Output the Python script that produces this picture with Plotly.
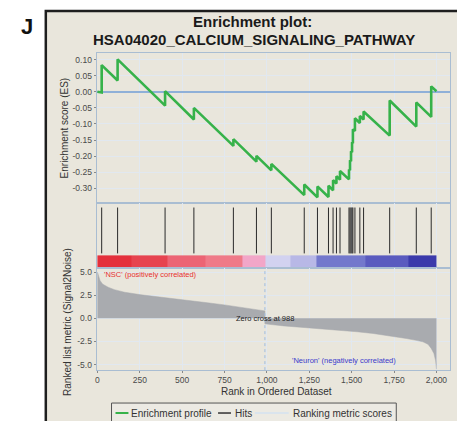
import plotly.graph_objects as go

# ---------------- data ----------------
es_rank = [0, 25, 25, 119, 119, 399, 399, 569, 569, 802, 802, 938, 938, 1026, 1026,
           1220, 1220, 1298, 1298, 1363, 1363, 1390, 1390, 1410, 1410, 1431, 1431,
           1484, 1484, 1490, 1490, 1496, 1496, 1502, 1502, 1507, 1507, 1519, 1519,
           1548, 1548, 1570, 1570, 1724, 1724, 1881, 1881, 1969, 1969, 2000]
es_value = [0.0, -0.002, 0.083, 0.035, 0.101, -0.043, 0.002, -0.086, -0.050, -0.168, -0.147,
            -0.217, -0.199, -0.244, -0.224, -0.321, -0.288, -0.328, -0.294, -0.327, -0.292,
            -0.306, -0.275, -0.285, -0.262, -0.273, -0.246, -0.272, -0.241, -0.244, -0.213,
            -0.216, -0.185, -0.188, -0.157, -0.160, -0.116, -0.122, -0.082, -0.097, -0.075,
            -0.086, -0.061, -0.136, -0.027, -0.108, -0.033, -0.078, 0.017, 0.002]

hit_ranks = [25, 119, 399, 569, 802, 938, 1026, 1220, 1298, 1363, 1390, 1410, 1431,
             1484, 1490, 1496, 1502, 1507, 1519, 1548, 1570, 1724, 1881, 1969]

metric_rank = [0, 5, 15, 30, 63, 100, 160, 258, 350, 453, 550, 649, 750, 845, 920, 960,
               988, 988, 1020, 1100, 1177, 1300, 1431, 1530, 1626, 1720, 1822, 1880,
               1920, 1950, 1969, 1985, 1995, 2000]
metric_value = [5.0, 4.6, 4.1, 3.7, 3.36, 3.1, 2.82, 2.54, 2.32, 2.11, 1.9, 1.68, 1.45,
                1.2, 1.0, 0.9, 0.8, -0.6, -0.68, -0.82, -0.93, -1.1, -1.29, -1.45, -1.64,
                -1.88, -2.18, -2.38, -2.54, -2.8, -3.25, -3.8, -4.6, -5.5]
zero_cross = 988

band_edges = [0, 200, 414, 640, 854, 991, 1140, 1294, 1578, 1832, 2002]

es_ticks = [0.10, 0.05, 0.00, -0.05, -0.10, -0.15, -0.20, -0.25, -0.30]
es_ticktext = ["0.10", "0.05", "0.00", "-0.05", "-0.10", "-0.15", "-0.20", "-0.25", "-0.30"]
metric_ticks = [5.0, 2.5, 0.0, -2.5, -5.0]
metric_ticktext = ["5.0", "2.5", "0.0", "-2.5", "-5.0"]
rank_ticks = [0, 250, 500, 750, 1000, 1250, 1500, 1750, 2000]
rank_ticktext = ["0", "250", "500", "750", "1,000", "1,250", "1,500", "1,750", "2,000"]

# ---------------- styles ----------------
band_colors = ['#e4303c', '#e6434f', '#ec6474', '#ef7a88', '#f2a6c8', '#d2d2f0',
               '#b8b8e6', '#7378cc', '#5a5bbf', '#3b3aab']
W, H = 457, 421
FONT = "Liberation Sans, Arial, sans-serif"
GRID = '#e1e8f0'
AXL = '#a9bdd2'
TICKC = '#4a4a4a'


def px(p):
    return p / W


def py(p):
    return 1 - p / H


xdom = [px(95), px(450)]
top_dom = [py(202), py(52)]
mid_dom = [py(268), py(202)]
bot_dom = [py(370), py(268)]
xrange_ = [-5, 2080]

fig = go.Figure()

# ranked metric (bottom)
fig.add_trace(go.Scatter(x=metric_rank, y=metric_value, mode='lines', fill='tozeroy',
                         fillcolor='#a9abaf', line=dict(color='#a9abaf', width=0.5),
                         xaxis='x3', yaxis='y3', showlegend=False, hoverinfo='skip'))

# hits (middle)
hx, hy = [], []
for r in hit_ranks:
    hx += [r, r, None]
    hy += [0.227, 0.924, None]
fig.add_trace(go.Scatter(x=hx, y=hy, mode='lines', line=dict(color='#2a2a2a', width=1),
                         xaxis='x2', yaxis='y2', showlegend=False, hoverinfo='skip'))

# color bar (middle)
n = len(band_colors)
cs = []
for i, c in enumerate(band_colors):
    cs.append([i / n, c])
    cs.append([(i + 1) / n, c])
fig.add_trace(go.Heatmap(x=band_edges, y=[0.015, 0.197], z=[list(range(n))],
                         zmin=-0.5, zmax=n - 0.5, colorscale=cs, showscale=False,
                         xaxis='x2', yaxis='y2', hoverinfo='skip'))

# enrichment score (top)
fig.add_trace(go.Scatter(x=es_rank, y=es_value, mode='lines',
                         line=dict(color='#36b24a', width=2.6),
                         xaxis='x', yaxis='y', showlegend=False, hoverinfo='skip'))

common_x = dict(domain=xdom, range=xrange_, tickvals=rank_ticks, showgrid=True,
                gridcolor=GRID, gridwidth=1, zeroline=False, showline=True,
                linecolor=AXL, mirror=True)
tickfont = dict(family=FONT, size=8.5, color=TICKC)

fig.update_layout(
    width=W, height=H, autosize=False,
    margin=dict(l=0, r=0, t=0, b=0),
    paper_bgcolor='white', plot_bgcolor='white',
    showlegend=False,
    xaxis=dict(**common_x, anchor='y', showticklabels=False, ticks=''),
    yaxis=dict(domain=top_dom, range=[-0.344, 0.121], anchor='x', tickvals=es_ticks,
               ticktext=es_ticktext, tickfont=tickfont, ticks='outside', ticklen=2,
               tickcolor='#888', showgrid=True, gridcolor=GRID, zeroline=True,
               zerolinecolor='#8fb0d8', zerolinewidth=1.5, showline=True,
               linecolor=AXL, mirror=True),
    xaxis2=dict(**common_x, anchor='y2', showticklabels=False, ticks=''),
    yaxis2=dict(domain=mid_dom, range=[0, 1], anchor='x2', showticklabels=False,
                showgrid=False, zeroline=False, showline=True, linecolor=AXL, mirror=True),
    xaxis3=dict(**common_x, anchor='y3', ticktext=rank_ticktext, tickfont=tickfont,
                ticks='outside', ticklen=2, tickcolor='#888'),
    yaxis3=dict(domain=bot_dom, range=[-5.6, 5.4], anchor='x3', tickvals=metric_ticks,
                ticktext=metric_ticktext, tickfont=tickfont, ticks='outside', ticklen=2,
                tickcolor='#888', showgrid=True, gridcolor=GRID, zeroline=False,
                showline=True, linecolor=AXL, mirror=True),
)

shapes = [
    # outer frame / panel background
    dict(type='rect', xref='paper', yref='paper', x0=px(44), x1=1.05, y0=-0.05, y1=py(10),
         fillcolor='#e9e6dc', line=dict(color='#1e1e1e', width=2.5), layer='below'),
    # zero-cross dashed line
    dict(type='line', xref='x3', yref='y3 domain', x0=zero_cross, x1=zero_cross, y0=0, y1=1,
         line=dict(color='#9fbce0', width=1, dash='dot')),
    # legend box
    dict(type='rect', xref='paper', yref='paper', x0=px(110), x1=px(396), y0=-0.05, y1=py(403),
         fillcolor='#eceae3', line=dict(color='#555', width=1)),
    dict(type='line', xref='paper', yref='paper', x0=px(114), x1=px(127), y0=py(413), y1=py(413),
         line=dict(color='#36b24a', width=2)),
    dict(type='line', xref='paper', yref='paper', x0=px(217), x1=px(230), y0=py(413), y1=py(413),
         line=dict(color='#333', width=1.5)),
    dict(type='line', xref='paper', yref='paper', x0=px(254), x1=px(288), y0=py(413), y1=py(413),
         line=dict(color='#d4e2f0', width=1.5)),
]
fig.update_layout(shapes=shapes)

ann = []


def A(text, x, y, size, color='#222', bold=False, xanchor='center', yanchor='middle',
      angle=0, xref='paper', yref='paper'):
    ann.append(dict(text=('<b>%s</b>' % text) if bold else text, x=x, y=y, xref=xref,
                    yref=yref, showarrow=False, xanchor=xanchor, yanchor=yanchor,
                    textangle=angle, font=dict(family=FONT, size=size, color=color)))


A("J", px(25), py(26), 22, '#111', bold=True)
A("Enrichment plot:", px(252), py(21), 15, '#1a1a1a', bold=True)
A("HSA04020_CALCIUM_SIGNALING_PATHWAY", px(253), py(39), 15, '#1a1a1a', bold=True)
A("Enrichment score (ES)", px(63), py(127), 10, '#333', angle=-90)
A("Ranked list metric (Signal2Noise)", px(66), py(322), 10, '#333', angle=-90)
A("Rank in Ordered Dataset", px(276), py(391), 10, '#333')
A("Zero cross at 988", zero_cross, 0, 7.5, '#222', xref='x3', yref='y3')
A("'NSC' (positively correlated)", px(100), py(274), 7.5, '#e83030', xanchor='left')
A("'Neuron' (negatively correlated)", px(398), py(360), 7.5, '#3a3acc', xanchor='right')
A("Enrichment profile", px(128), py(413), 10, '#333', xanchor='left')
A("Hits", px(232), py(413), 10, '#333', xanchor='left')
A("Ranking metric scores", px(290), py(413), 10, '#333', xanchor='left')
fig.update_layout(annotations=ann)

fig.write_html("out.html",
               config={'displayModeBar': False, 'staticPlot': True},
               post_script="document.body.style.margin='0px';"
                           "document.body.style.overflow='hidden';")
